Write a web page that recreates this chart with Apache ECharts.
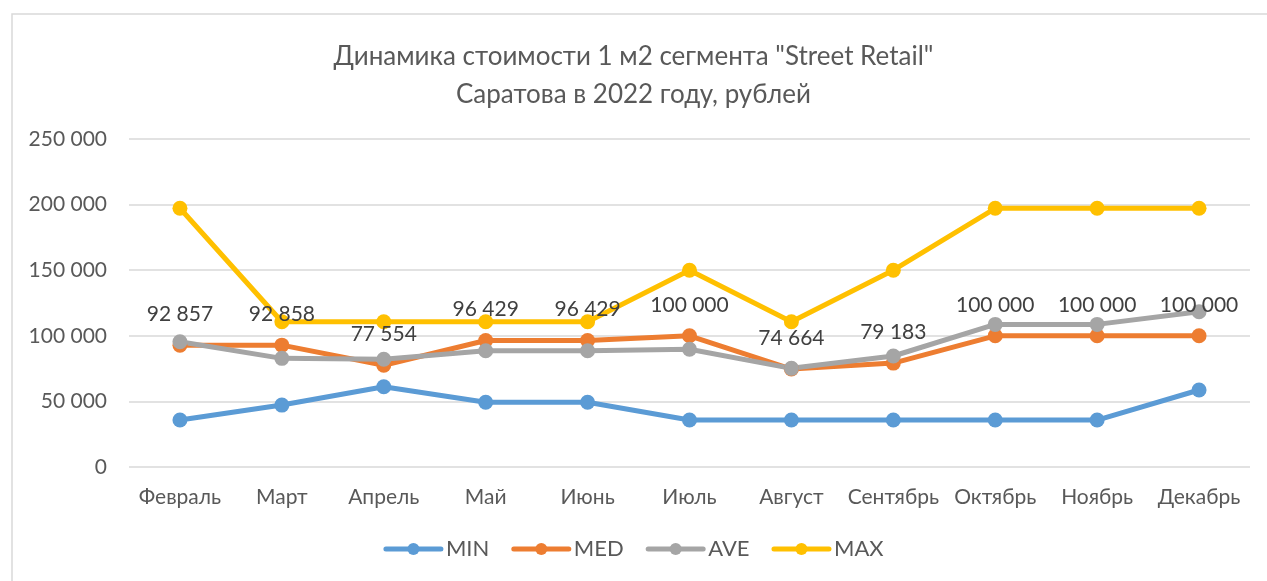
<!DOCTYPE html>
<html>
<head>
<meta charset="utf-8">
<script src="https://cdn.jsdelivr.net/npm/echarts@6/dist/echarts.min.js"></script>
<style>
  html, body { margin: 0; padding: 0; background: #fff; }
  #chart { width: 1267px; height: 581px; }
</style>
</head>
<body>
<div id="chart"></div>
<script>
// месяцы 2022 года
const months = ['Февраль', 'Март', 'Апрель', 'Май', 'Июнь', 'Июль', 'Август', 'Сентябрь', 'Октябрь', 'Ноябрь', 'Декабрь']

// значения, руб. за 1 м2
const minValues = [35800, 47200, 61200, 49300, 49300, 35800, 35800, 35800, 35800, 35800, 58700]
const medValues = [92857, 92858, 77554, 96429, 96429, 100000, 74664, 79183, 100000, 100000, 100000]
const aveValues = [95500, 82800, 82100, 88600, 88600, 89700, 75200, 84600, 108700, 108700, 118400]
const maxValues = [197200, 110700, 110700, 110700, 110700, 150000, 110700, 150000, 197200, 197200, 197200]

const colors = ['#5B9BD5', '#ED7D31', '#A5A5A5', '#FFC000']
const font = 'Lato, "Open Sans", sans-serif'
const textColor = '#595959'

const fmt = v => String(v).replace(/\B(?=(\d{3})+(?!\d))/g, ' ')

function makeSeries(name, data, color, withLabel) {
  return {
    name: name,
    type: 'line',
    data: data,
    symbol: 'circle',
    symbolSize: 15,
    lineStyle: { width: 5, color: color },
    itemStyle: { color: color },
    label: {
      show: withLabel,
      position: 'top',
      distance: 13,
      color: '#404040',
      fontFamily: font,
      fontSize: 21,
      formatter: p => fmt(p.value)
    },
    animation: false
  }
}

const chart = echarts.init(document.getElementById('chart'))
chart.setOption({
  color: colors,
  title: {
    text: 'Динамика стоимости 1 м2 сегмента "Street Retail"\nСаратова в 2022 году, рублей',
    left: 'center',
    top: 33,
    textStyle: {
      fontFamily: font,
      fontSize: 26,
      fontWeight: 'normal',
      color: textColor,
      lineHeight: 38
    }
  },
  graphic: [{
    type: 'rect',
    shape: { x: 12, y: 14, width: 1300, height: 620 },
    style: { fill: 'none', stroke: '#d9d9d9', lineWidth: 1.5 },
    silent: true
  }],
  legend: {
    bottom: 16,
    left: 'center',
    itemWidth: 55,
    itemHeight: 15,
    itemGap: 22,
    lineStyle: { width: 5, cap: 'round' },
    textStyle: { fontFamily: font, fontSize: 22, color: textColor },
    data: ['MIN', 'MED', 'AVE', 'MAX']
  },
  grid: {
    left: 129,
    right: 17,
    top: 139,
    bottom: 114
  },
  xAxis: {
    type: 'category',
    data: months,
    boundaryGap: true,
    axisLine: { show: false },
    axisTick: { show: false },
    axisLabel: { fontFamily: font, fontSize: 21, color: textColor, margin: 20, interval: 0 }
  },
  yAxis: {
    type: 'value',
    min: 0,
    max: 250000,
    interval: 50000,
    axisLine: { show: false },
    axisTick: { show: false },
    splitLine: { lineStyle: { color: '#d9d9d9', width: 1.5 } },
    axisLabel: {
      fontFamily: font,
      fontSize: 21,
      color: textColor,
      margin: 22,
      formatter: v => fmt(v)
    }
  },
  series: [
    makeSeries('MIN', minValues, colors[0], false),
    makeSeries('MED', medValues, colors[1], true),
    makeSeries('AVE', aveValues, colors[2], false),
    makeSeries('MAX', maxValues, colors[3], false)
  ]
})
</script>
</body>
</html>
